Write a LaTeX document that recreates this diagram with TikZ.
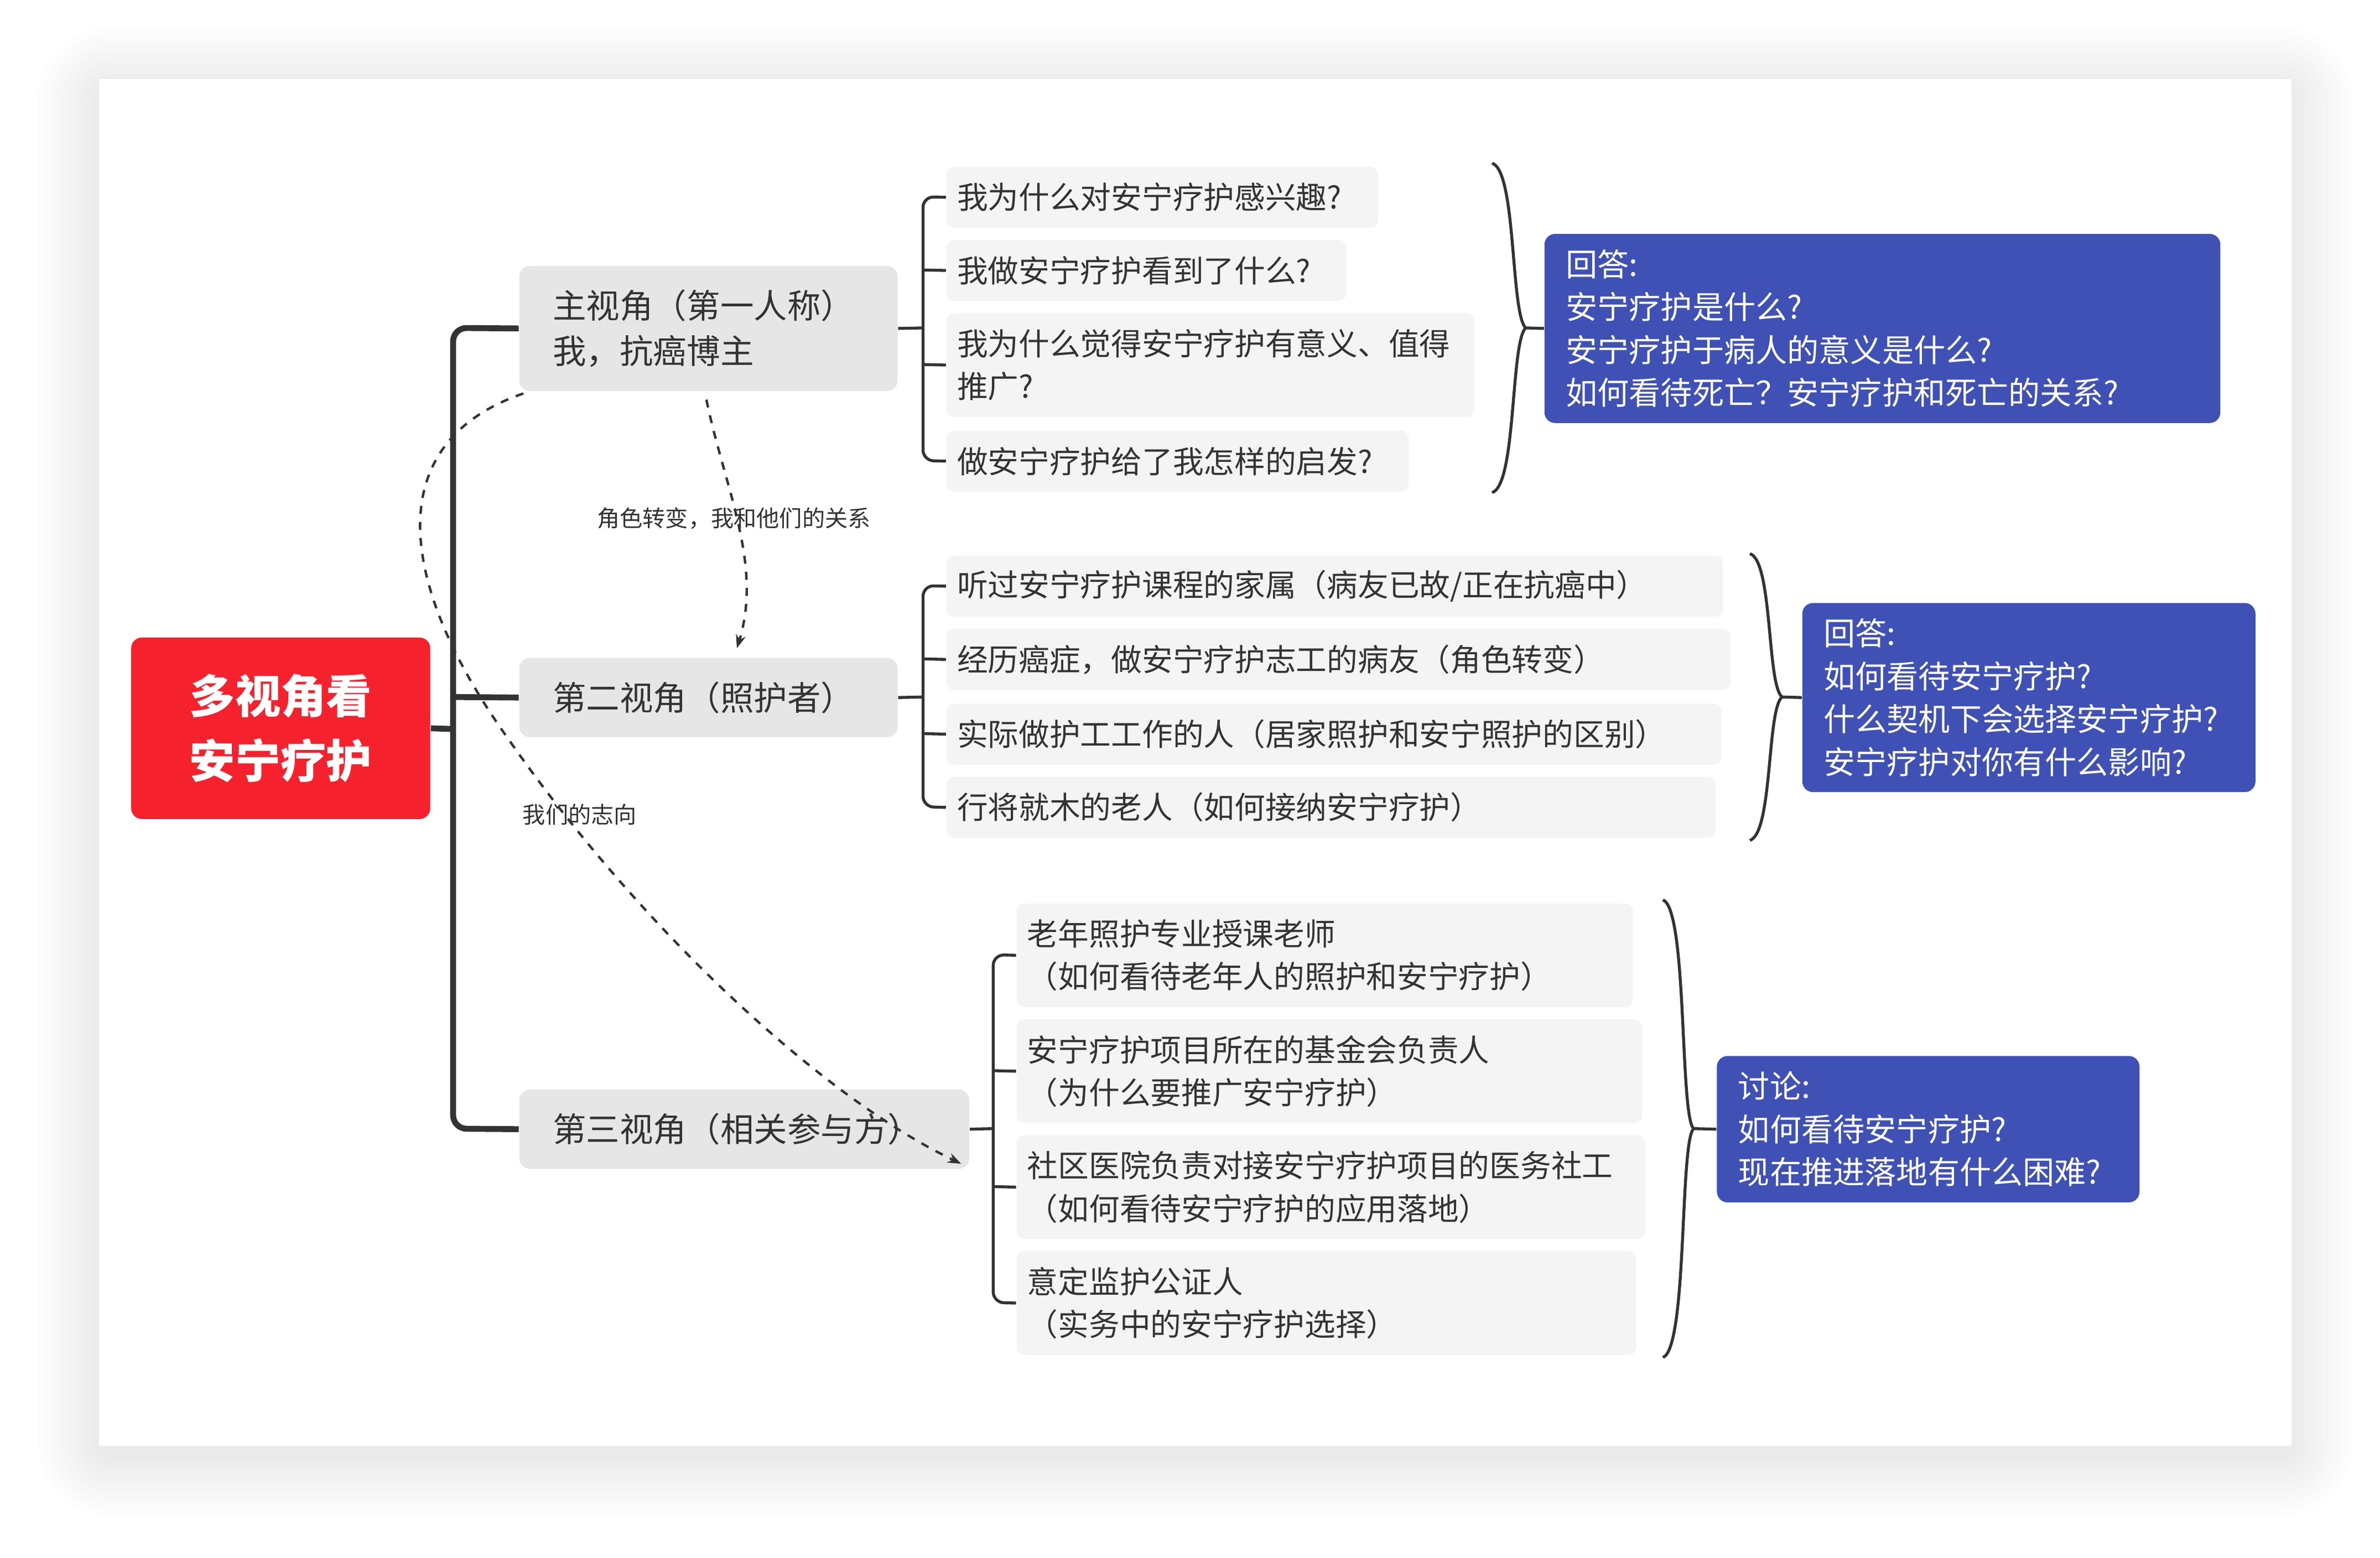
\documentclass[tikz,border=0pt]{standalone}
\usepackage{fontspec}
\setmainfont{Noto Sans CJK SC}
\usetikzlibrary{arrows.meta}
\definecolor{redb}{HTML}{F5222D}
\definecolor{blueb}{HTML}{3F51B5}
\definecolor{maing}{HTML}{E6E6E6}
\definecolor{subg}{HTML}{F4F4F4}
\definecolor{ln}{HTML}{333333}
\tikzset{
 subbox/.style={fill=subg,rounded corners=3pt,inner xsep=0.14cm,inner ysep=0pt,align=left,font=\fontsize{11.5}{16}\selectfont,text=ln},
 mainbox/.style={fill=maing,rounded corners=4pt,inner xsep=0.44cm,inner ysep=0pt,align=left,font=\fontsize{12.5}{17}\selectfont,text=ln},
 bluebox/.style={fill=blueb,rounded corners=4pt,inner xsep=0.28cm,inner ysep=0pt,align=left,font=\fontsize{11.8}{16}\selectfont,text=white},
 tree/.style={draw=ln,line width=2.2pt,rounded corners=5pt},
 thin/.style={draw=ln,line width=1.1pt,rounded corners=4pt},
 lbl/.style={font=\fontsize{8.5}{10}\selectfont,text=ln},
 dsh/.style={draw=ln,line width=0.9pt,dashed,-{Stealth[length=5pt]}}
}
\newcommand\bxx[8]{\pgfmathsetmacro\tw{(#5)*0.02-2*#7}\node[#1,anchor=north west,minimum height=#6*0.02cm,text width=\tw cm] (#2) at (#3,#4) {#8};}
\begin{document}
\begin{tikzpicture}[x=0.02cm,y=-0.02cm]
\useasboundingbox (0,0) rectangle (1560,1021.5);
\foreach \s in {40,36,32,28,24,20,16,12,8,4}{
 \fill[black,opacity=0.008,rounded corners=\s*0.02cm+4pt] (65-\s,52-\s+6) rectangle (1502+\s,948+\s+6);}
\fill[white] (65,52) rectangle (1502,948);
% root
\node[fill=redb,rounded corners=4pt,minimum width=196*0.02cm,minimum height=119*0.02cm,align=center,text=white,font=\fontsize{17}{24}\selectfont\bfseries] (root) at (184,477.5) {多视角看\\安宁疗护};
% main nodes
\bxx{mainbox}{m1}{340}{174}{248}{82}{0.44}{主视角（第一人称）\\我，抗癌博主}
\bxx{mainbox}{m2}{340}{431}{248}{52}{0.44}{第二视角（照护者）}
\bxx{mainbox}{m3}{340}{714}{295}{52}{0.44}{第三视角（相关参与方）}
\draw[tree] (m1.west) -- (297,215) -- (297,740) -- (m3.west);
\draw[tree] (root.east) -- (297,478);
\draw[tree] (297,457) -- (m2.west);
% group 1
\bxx{subbox}{a1}{620}{109}{283}{40}{0.14}{我为什么对安宁疗护感兴趣?}
\bxx{subbox}{a2}{620}{157}{262}{40}{0.14}{我做安宁疗护看到了什么?}
\bxx{subbox}{a3}{620}{205}{346}{68}{0.14}{我为什么觉得安宁疗护有意义、值得\\推广?}
\bxx{subbox}{a4}{620}{282}{303}{40}{0.14}{做安宁疗护给了我怎样的启发?}
\draw[thin] (m1.east) -- (605,215);
\draw[thin] (a1.west) -- (605,129) -- (605,302) -- (a4.west);
\draw[thin] (605,177) -- (a2.west);
\draw[thin] (605,239) -- (a3.west);
\draw[ln,line width=1.1pt] (978,107) .. controls (994,112) and (990,205) .. (1000,215) .. controls (990,225) and (994,318) .. (978,323);
\bxx{bluebox}{b1}{1012}{153}{443}{124}{0.28}{回答:\\安宁疗护是什么?\\安宁疗护于病人的意义是什么?\\如何看待死亡？安宁疗护和死亡的关系?}
\draw[ln,line width=1.1pt] (1000,215) -- (b1.west);
% group 2
\bxx{subbox}{c1}{620}{364}{509}{40}{0.14}{听过安宁疗护课程的家属（病友已故/正在抗癌中）}
\bxx{subbox}{c2}{620}{412}{514}{40}{0.14}{经历癌症，做安宁疗护志工的病友（角色转变）}
\bxx{subbox}{c3}{620}{461}{508}{40}{0.14}{实际做护工工作的人（居家照护和安宁照护的区别）}
\bxx{subbox}{c4}{620}{509}{504}{40}{0.14}{行将就木的老人（如何接纳安宁疗护）}
\draw[thin] (m2.east) -- (605,457);
\draw[thin] (c1.west) -- (605,384) -- (605,529) -- (c4.west);
\draw[thin] (605,432) -- (c2.west);
\draw[thin] (605,481) -- (c3.west);
\draw[ln,line width=1.1pt] (1147,363) .. controls (1162,368) and (1158,448) .. (1168,457) .. controls (1158,466) and (1162,546) .. (1147,551);
\bxx{bluebox}{b2}{1181}{395}{297}{124}{0.28}{回答:\\如何看待安宁疗护?\\什么契机下会选择安宁疗护?\\安宁疗护对你有什么影响?}
\draw[ln,line width=1.1pt] (1168,457) -- (b2.west);
% group 3
\bxx{subbox}{d1}{666}{592}{404}{68}{0.14}{老年照护专业授课老师\\（如何看待老年人的照护和安宁疗护）}
\bxx{subbox}{d2}{666}{668}{410}{68}{0.14}{安宁疗护项目所在的基金会负责人\\（为什么要推广安宁疗护）}
\bxx{subbox}{d3}{666}{744}{412}{68}{0.14}{社区医院负责对接安宁疗护项目的医务社工\\（如何看待安宁疗护的应用落地）}
\bxx{subbox}{d4}{666}{820}{406}{68}{0.14}{意定监护公证人\\（实务中的安宁疗护选择）}
\draw[thin] (m3.east) -- (651,740);
\draw[thin] (d1.west) -- (651,626) -- (651,854) -- (d4.west);
\draw[thin] (651,702) -- (d2.west);
\draw[thin] (651,778) -- (d3.west);
\draw[ln,line width=1.1pt] (1090,590) .. controls (1106,596) and (1101,730) .. (1110,740) .. controls (1101,750) and (1106,884) .. (1090,890);
\bxx{bluebox}{b3}{1125}{692}{277}{96}{0.28}{讨论:\\如何看待安宁疗护?\\现在推进落地有什么困难?}
\draw[ln,line width=1.1pt] (1110,740) -- (b3.west);
% dashed relations
\coordinate (s1) at (463,262);
\coordinate (e1) at (483,425);
\draw[dsh] (s1) .. controls (475,320) and (500,370) .. (e1);
\node[lbl] (l1) at (481,340) {角色转变，我和他们的关系};
\coordinate (s2) at (343,258);
\coordinate (e2) at (630,763);
\draw[dsh] (s2) .. controls (250,290) and (260,380) .. (330,480) .. controls (420,610) and (540,720) .. (e2);
\node[lbl] (l2) at (380,534) {我们的志向};
\end{tikzpicture}
\end{document}
